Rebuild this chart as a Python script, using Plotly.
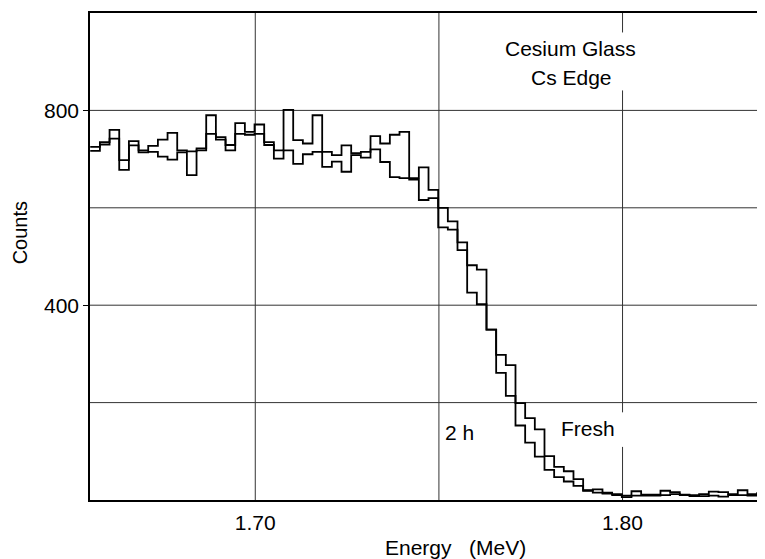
import numpy as np
import plotly.graph_objects as go

# ---- data ----
# channel calibration: first visible channel edge and channel width (MeV)
first_edge = 1.70 - 17 * (0.1 / 38) - 0.0002
channel_width = 0.1 / 38

fresh_counts = [725, 735, 760, 698, 737, 718, 727, 740, 754, 718,
                716, 722, 790, 745, 729, 774, 756, 771, 735, 718,
                801, 739, 732, 790, 715, 708, 728, 712, 715, 747,
                732, 750, 756, 661, 683, 637, 600, 572, 529, 482,
                473, 350, 298, 277, 199, 168, 145, 90, 68, 59,
                43, 20, 22, 15, 12, 9, 18, 11, 11, 19,
                16, 11, 10, 12, 17, 16, 12, 20, 12, 14]

h2_counts = [717, 730, 742, 678, 728, 714, 715, 705, 699, 714,
             667, 718, 752, 740, 718, 752, 750, 752, 729, 701,
             718, 690, 710, 715, 684, 695, 674, 708, 703, 720,
             694, 663, 661, 658, 616, 620, 560, 555, 513, 426,
             402, 350, 261, 214, 153, 118, 89, 62, 47, 38,
             29, 19, 15, 13, 10, 6, 9, 9, 9, 10,
             12, 10, 8, 8, 9, 7, 10, 10, 9, 9]

x_tick_vals = [1.70, 1.80]
x_tick_text = ["1.70", "1.80"]
y_tick_vals = [400, 800]
y_tick_text = ["400", "800"]
x_grid = [1.70, 1.75]
y_grid = [200, 400, 600, 800]
x_range = [1.655, 1.8377]
y_range = [0, 1000]

FONT = "Liberation Sans, Arial, sans-serif"

n = len(fresh_counts)
edges = first_edge + channel_width * np.arange(n + 1)


def step_xy(counts):
    y = list(counts) + [counts[-1]]
    return edges, y


fig = go.Figure()
for counts in (fresh_counts, h2_counts):
    xs, ys = step_xy(counts)
    fig.add_trace(go.Scatter(x=xs, y=ys, mode="lines", line_shape="hv",
                             line=dict(color="black", width=1.8),
                             hoverinfo="skip", showlegend=False))

shapes = []
grid_style = dict(color="#333333", width=1)
for gx in x_grid:
    shapes.append(dict(type="line", xref="x", yref="y", x0=gx, x1=gx,
                       y0=y_range[0], y1=y_range[1], line=grid_style, layer="below"))
# 1.80 grid line is interrupted by the labels
for y0, y1 in [(0, 109), (180, 841), (960, 1000)]:
    shapes.append(dict(type="line", xref="x", yref="y", x0=1.80, x1=1.80,
                       y0=y0, y1=y1, line=grid_style, layer="below"))
for gy in y_grid:
    shapes.append(dict(type="line", xref="x", yref="y", x0=x_range[0], x1=x_range[1],
                       y0=gy, y1=gy, line=grid_style, layer="below"))

annotations = [
    dict(x=1.7859, y=927, xref="x", yref="y", text="Cesium Glass", showarrow=False,
         font=dict(family=FONT, size=21, color="black")),
    dict(x=1.7862, y=868, xref="x", yref="y", text="Cs Edge", showarrow=False,
         font=dict(family=FONT, size=21, color="black")),
    dict(x=1.7905, y=146, xref="x", yref="y", text="Fresh", showarrow=False,
         font=dict(family=FONT, size=21, color="black")),
    dict(x=1.7557, y=139, xref="x", yref="y", text="2\u00a0h", showarrow=False,
         font=dict(family=FONT, size=21, color="black")),
    dict(x=0.544, y=-0.0985, xref="paper", yref="paper",
         text="Energy\u00a0\u00a0\u00a0(MeV)", showarrow=False,
         xanchor="center", yanchor="middle",
         font=dict(family=FONT, size=21, color="black")),
    dict(x=-0.104, y=0.548, xref="paper", yref="paper",
         text="Counts", showarrow=False, textangle=-90,
         xanchor="center", yanchor="middle",
         font=dict(family=FONT, size=20, color="black")),
]

fig.update_layout(
    width=757, height=551,
    margin=dict(l=82, r=2, t=5, b=59),
    paper_bgcolor="white", plot_bgcolor="white",
    shapes=shapes, annotations=annotations,
    xaxis=dict(range=x_range, tickvals=x_tick_vals, ticktext=x_tick_text,
               showgrid=False, zeroline=False, ticks="",
               ticklabelstandoff=3,
               showline=True, mirror=True, linecolor="black", linewidth=1.5,
               tickfont=dict(family=FONT, size=21, color="black")),
    yaxis=dict(range=y_range, tickvals=y_tick_vals, ticktext=y_tick_text,
               showgrid=False, zeroline=False, ticks="outside", ticklen=5,
               tickcolor="black", tickwidth=1,
               showline=True, mirror=True, linecolor="black", linewidth=1.5,
               tickfont=dict(family=FONT, size=21, color="black")),
)

fig.write_html("out.html")
